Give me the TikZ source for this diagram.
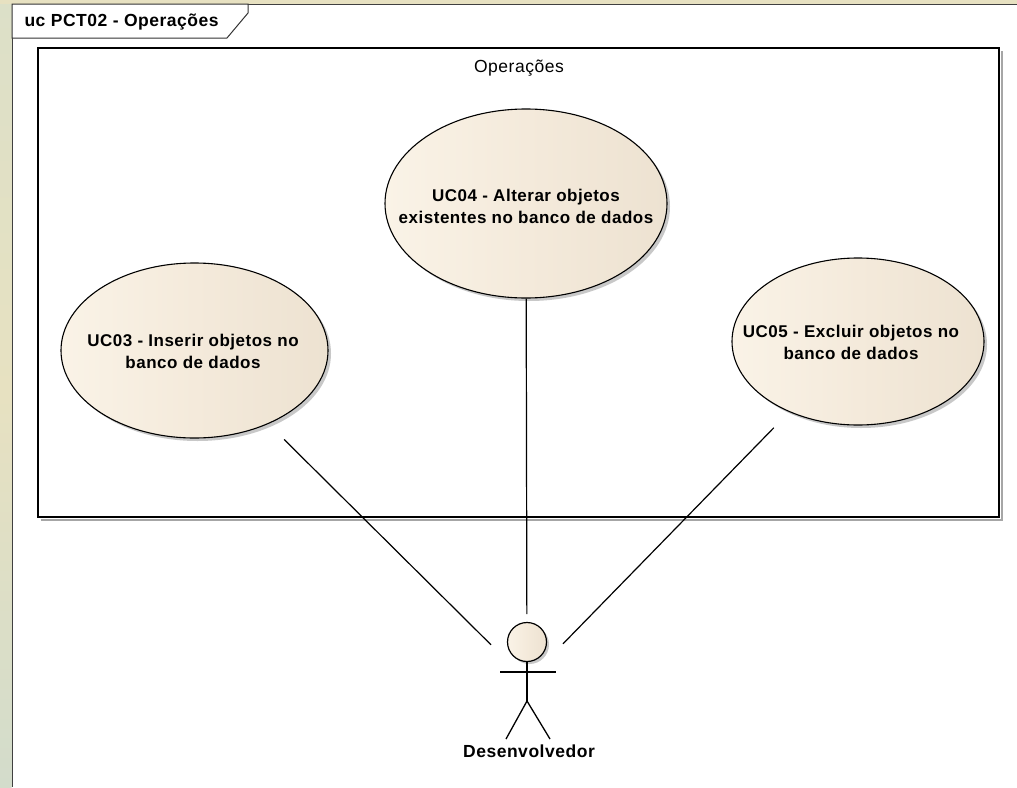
\documentclass[tikz,border=0pt]{standalone}
\usepackage{fontspec}
\setmainfont{Liberation Sans}[LetterSpace=3]
\usetikzlibrary{shapes.geometric,shadows}
\definecolor{ucL}{HTML}{FAF3E7}
\definecolor{ucM}{HTML}{F4EADB}
\definecolor{ucR}{HTML}{EDE2D1}
\definecolor{stripT}{HTML}{DCE0C8}
\definecolor{stripM}{HTML}{E7E1C1}
\definecolor{stripB}{HTML}{D3DCCB}
\begin{document}
\begin{tikzpicture}[x=1pt,y=-1pt,
  txt/.style={font=\fontsize{17.5}{22}\selectfont},
  btxt/.style={font=\bfseries\fontsize{17.5}{22}\selectfont},
  uc/.style={ellipse, draw=black, line width=1.1pt, left color=ucL, right color=ucR, middle color=ucM,
    inner sep=0pt,
    drop shadow={shadow xshift=3pt, shadow yshift=-3pt, fill=black!30, opacity=0.7}},
  uctext/.style={align=center, inner sep=0pt, font=\bfseries\fontsize{17}{22}\selectfont},
  assoc/.style={draw=black, line width=1.2pt},
  stick/.style={draw=black, line width=1.3pt}]
\useasboundingbox (0,0) rectangle (1017,787);
\fill[white] (0,0) rectangle (1017,787);
\shade[top color=stripT, bottom color=stripB, middle color=stripM] (0,0) rectangle (11.5,787);
\fill[stripM] (0,0) rectangle (1017,3.5);
% frame
\draw[line width=1pt, black!75] (12,787) -- (12,4) -- (1017,4);
\filldraw[fill=white, draw=black!80, line width=1pt] (12,4) -- (248,4) -- (248,13) -- (227,38) -- (12,38) -- cycle;
\node[anchor=west, btxt] (title) at (21,22) {uc PCT02 - Operações};
% system boundary
\draw[black!35, line width=1.5pt] (41,520) -- (1002,520) -- (1002,51);
\draw[line width=1.1pt] (38,48) rectangle (999,517);
\node[txt] (blabel) at (519,68) {Operações};
% use cases
\node[uc, minimum width=282pt, minimum height=189pt] (uc04) at (526,203.5) {};
\node[uctext] (uc04t) at (526,206) {UC04 - Alterar objetos\\existentes no banco de dados};
\node[uc, minimum width=267pt, minimum height=175pt] (uc03) at (194.5,350.5) {};
\node[uctext] (uc03t) at (193,351) {UC03 - Inserir objetos no\\banco de dados};
\node[uc, minimum width=252pt, minimum height=167pt] (uc05) at (858,341.5) {};
\node[uctext] (uc05t) at (851,342.5) {UC05 - Excluir objetos no\\banco de dados};
% actor
\node[minimum width=56pt, minimum height=117pt, outer sep=8pt, inner sep=0pt] (actor) at (527,680.5) {};
\node[circle, minimum size=39pt, inner sep=0pt, draw=black, line width=1.2pt, left color=ucL, right color=ucR, middle color=ucM,
  drop shadow={shadow xshift=2.5pt, shadow yshift=-2.5pt, fill=black!30, opacity=0.7}] (head) at (527,642) {};
\draw[stick] (500,672) -- (556,672);
\draw[stick] (head.south) -- (527,701);
\draw[stick] (506,739) -- (527,701) -- (550,739);
\node[btxt] (actorlabel) at (529,751) {Desenvolvedor};
% associations
\draw[assoc, shorten <=22pt] (uc03) -- (actor);
\draw[assoc] (uc04) -- (actor);
\draw[assoc, shorten <=22pt] (uc05) -- (actor);
\end{tikzpicture}
\end{document}
